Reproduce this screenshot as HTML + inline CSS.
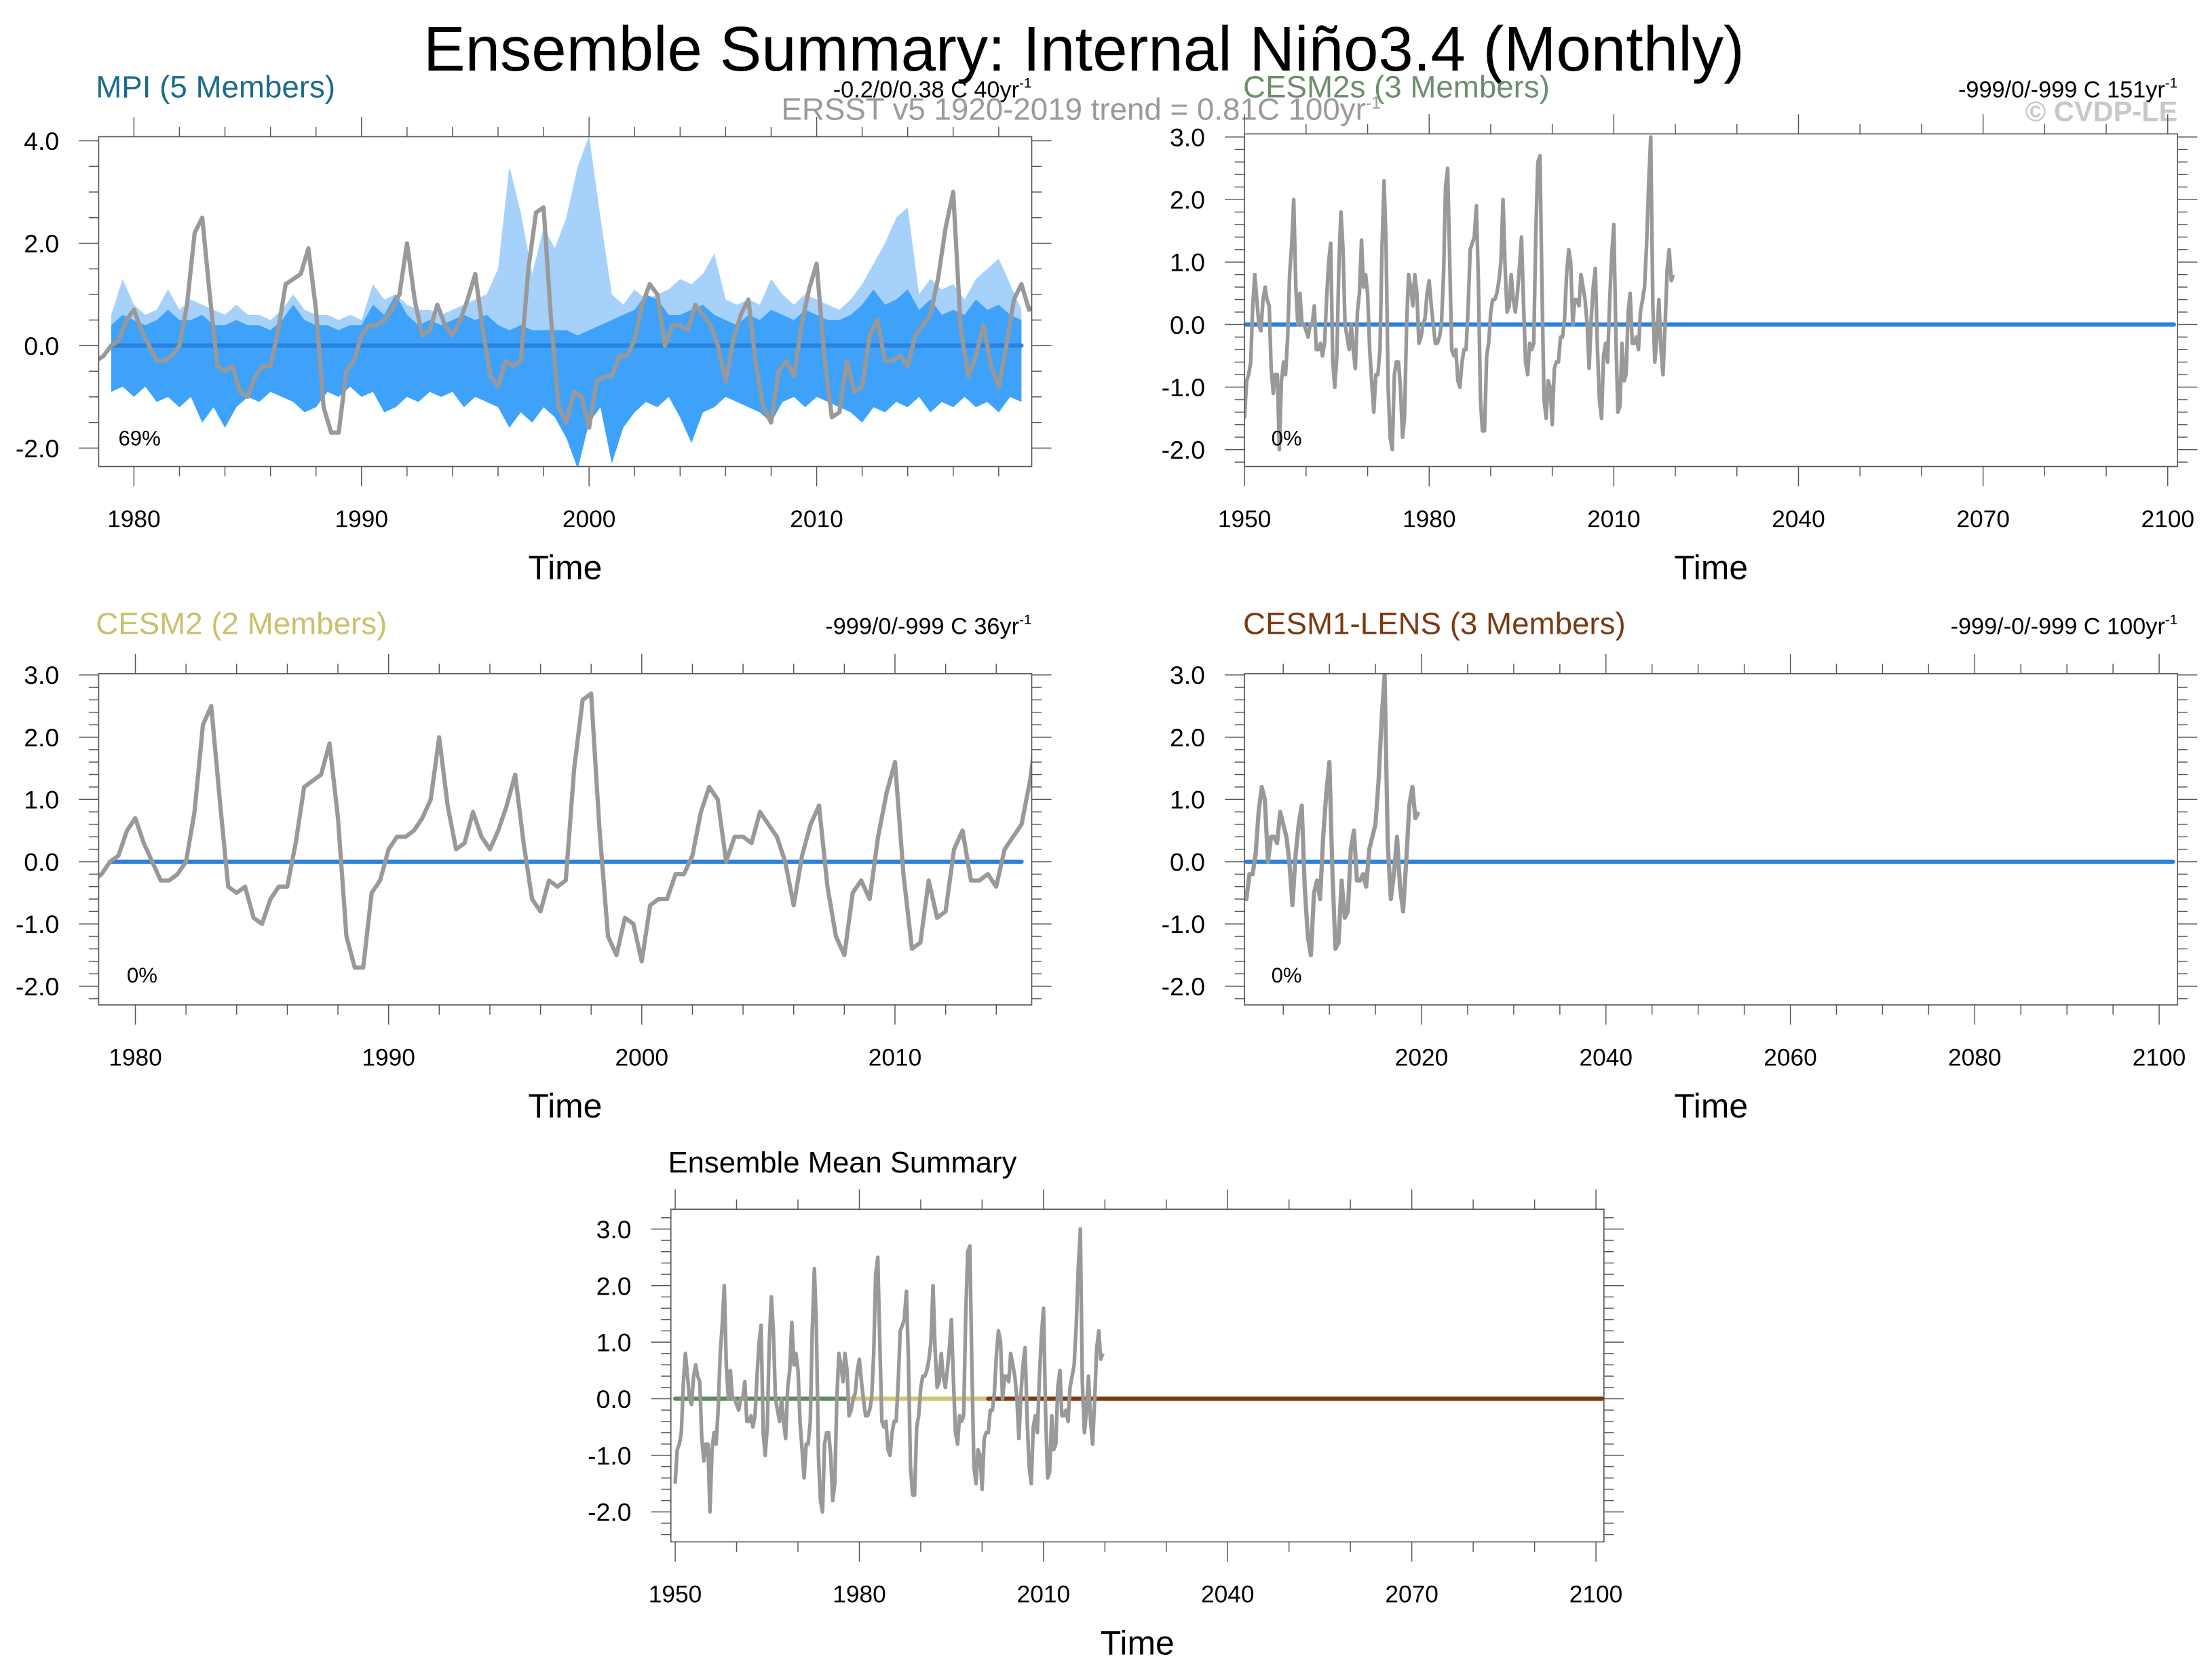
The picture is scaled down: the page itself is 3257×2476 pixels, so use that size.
<!DOCTYPE html>
<html><head><meta charset="utf-8"><style>
html,body{margin:0;padding:0;background:#fff}
svg{display:block}
text{font-family:"Liberation Sans",Arial,sans-serif}
</style></head><body>
<svg id="fig" xmlns="http://www.w3.org/2000/svg" width="3257" height="2476" viewBox="0 0 1568 1192" preserveAspectRatio="none">
<rect x="0" y="0" width="1568" height="1192" fill="#fff"/>
<text x="769" y="50" font-size="44.5" text-anchor="middle">Ensemble Summary: Internal Niño3.4 (Monthly)</text>
<text x="68" y="69" font-size="22" fill="#1b6b8c">MPI (5 Members)</text>
<text x="732" y="69" font-size="16.5" text-anchor="end">-0.2/0/0.38 C 40yr<tspan dy="-7" font-size="10">-1</tspan></text>
<text x="767" y="85" font-size="22" fill="#9a9a9a" text-anchor="middle">ERSST v5 1920-2019 trend = 0.81C 100yr<tspan dy="-8" font-size="12">-1</tspan></text>
<text x="882" y="69" font-size="22" fill="#6b8f6b">CESM2s (3 Members)</text>
<text x="1545" y="69" font-size="16.5" text-anchor="end">-999/0/-999 C 151yr<tspan dy="-7" font-size="10">-1</tspan></text>
<text x="1545" y="86" font-size="20" font-weight="bold" fill="#c8c8c8" text-anchor="end">© CVDP-LE</text>
<text x="68" y="450" font-size="22" fill="#cbc06c">CESM2 (2 Members)</text>
<text x="732" y="450" font-size="16.5" text-anchor="end">-999/0/-999 C 36yr<tspan dy="-7" font-size="10">-1</tspan></text>
<text x="882" y="450" font-size="22" fill="#7b3a12">CESM1-LENS (3 Members)</text>
<text x="1545" y="450" font-size="16.5" text-anchor="end">-999/-0/-999 C 100yr<tspan dy="-7" font-size="10">-1</tspan></text>
<text x="474" y="832" font-size="21">Ensemble Mean Summary</text>
</svg>
<script>
// Observed (ERSST) Nino3.4 anomaly, sampled every 4 months starting 1950.0
const obsStart = 1950;
const obsValues = [
-1.5,-0.9,-0.8, -0.6,0.3,0.8, 0.4,0.0,-0.1, 0.4,0.6,0.4, 0.3,-0.7,-1.1,
-0.8,-0.8,-2.0, -0.9,-0.6,-0.8, -0.2,0.8,1.3, 2.0,0.6,0.0, 0.5,0.0,0.0,
-0.1,-0.2,0.0, 0.0,0.3,-0.4, -0.4,-0.3,-0.5, -0.3,0.4,1.0, 1.3,-0.6,-1.0,
-0.5,1.0,1.8, 1.2,0.0,-0.2, -0.4,0.0,-0.4, -0.7,0.2,0.5, 1.35,0.6,0.8,
0.5,-0.4,-0.9, -1.4,-0.8,-0.8, -0.4,1.2,2.3, 1.3,-1.0,-1.8, -2.0,-0.8,-0.6,
-0.6,-1.0,-1.8, -1.5,0.0,0.8, 0.6,0.3,0.8, 0.5,-0.3,-0.2, 0.0,0.1,0.5,
0.7,0.3,0.0, -0.3,-0.3,-0.2, 0.0,0.8,2.2, 2.5,1.0,-0.4, -0.5,-0.4,-0.9,
-1.0,-0.6,-0.4, -0.4,0.3,1.2, 1.3,1.4,1.9, 0.7,-1.2,-1.7, -1.7,-0.5,-0.3,
0.2,0.4,0.4, 0.5,0.7,1.0, 2.0,0.9,0.2, 0.3,0.8,0.4, 0.2,0.5,0.9,
1.4,0.3,-0.6, -0.8,-0.3,-0.4, -0.3,1.5,2.6, 2.7,0.5,-1.2, -1.5,-0.9,-1.0,
-1.6,-0.7,-0.6, -0.6,-0.2,-0.2, 0.1,0.8,1.2, 1.0,0.0,0.4, 0.4,0.3,0.8,
0.6,0.4,0.0, -0.7,0.1,0.6, 0.9,-0.4,-1.2, -1.5,-0.5,-0.3, -0.6,0.4,1.1,
1.6,-0.2,-1.4, -1.3,-0.3,-0.9, -0.8,0.2,0.5, -0.3,-0.3,-0.2, -0.4,0.2,0.4,
0.6,1.3,2.3, 3.0,0.3,-0.6, -0.2,0.4,-0.4, -0.8,0.0,0.9, 1.2,0.7,0.8
];
// MPI ensemble spread, every 0.5 yr starting 1979.0
const mpiStart = 1979;
const mpiLightUpper = [0.6,1.3,0.8,0.6,0.7,1.1,0.7,0.9,0.8,0.7,0.6,0.8,0.6,0.6,0.5,0.7,1.0,0.7,0.6,0.6,0.5,0.6,0.5,1.2,0.9,1.0,0.8,0.7,0.7,0.6,0.7,0.8,0.9,1.0,1.5,3.5,2.6,1.4,2.3,1.9,2.5,3.5,4.1,2.5,1.0,0.8,1.1,0.9,1.0,1.1,1.3,1.2,1.4,1.8,0.9,0.8,0.9,0.8,1.3,1.0,0.8,1.0,0.9,0.8,0.7,0.9,1.2,1.6,2.0,2.5,2.7,1.0,1.3,1.1,1.2,0.9,1.3,1.5,1.7,1.2,0.7];
const mpiDarkUpper = [0.4,0.6,0.5,0.4,0.5,0.7,0.5,0.5,0.6,0.4,0.4,0.5,0.4,0.4,0.3,0.5,0.8,0.5,0.4,0.4,0.3,0.4,0.4,0.8,0.6,1.0,0.6,0.4,0.5,0.4,0.5,0.6,0.5,0.6,0.4,0.3,0.4,0.3,0.3,0.3,0.3,0.2,0.3,0.4,0.5,0.6,0.7,1.0,0.9,0.6,0.6,0.7,0.8,0.6,0.5,0.4,0.6,0.5,0.7,0.6,0.5,0.7,0.6,0.5,0.5,0.6,0.8,1.1,0.8,0.9,1.1,0.7,0.9,0.6,0.7,0.6,0.9,0.7,0.8,0.6,0.5];
const mpiLower = [-0.9,-0.8,-1.0,-0.8,-1.1,-1.0,-1.2,-1.0,-1.5,-1.2,-1.6,-1.2,-1.0,-1.1,-0.9,-1.0,-1.1,-1.3,-1.2,-0.9,-1.0,-0.8,-1.0,-0.9,-1.3,-1.2,-1.0,-1.1,-0.9,-1.0,-0.9,-1.2,-1.0,-1.1,-1.2,-1.6,-1.3,-1.5,-1.2,-1.4,-1.8,-2.4,-1.5,-1.2,-2.3,-1.6,-1.3,-1.1,-1.2,-1.0,-1.4,-1.9,-1.3,-1.2,-1.0,-1.1,-1.2,-1.3,-1.5,-1.1,-1.0,-1.2,-1.0,-1.1,-1.2,-1.3,-1.5,-1.2,-1.3,-1.1,-1.2,-1.0,-1.3,-1.1,-1.2,-1.0,-1.2,-1.1,-1.3,-1.0,-1.1];

const NS="http://www.w3.org/2000/svg";
const svg=document.getElementById('fig');
function mk(tag,attrs,parent){const e=document.createElementNS(NS,tag);for(const k in attrs)e.setAttribute(k,attrs[k]);(parent||svg).appendChild(e);return e;}

function panel(p){
  const g=mk('g',{});
  
  
  const sx=v=>p.x0+(v-p.xmin)/(p.xmax-p.xmin)*(p.x1-p.x0);
  const sy=v=>p.y1-(v-p.ymin)/(p.ymax-p.ymin)*(p.y1-p.y0);
  const cid='clip-'+p.name;
  const cp=mk('clipPath',{id:cid},g);mk('rect',{x:p.x0,y:p.y0,width:p.x1-p.x0,height:p.y1-p.y0},cp);
  const plot=mk('g',{'clip-path':'url(#'+cid+')'},g);
  if(p.bands){
    const up=mpiLightUpper.map((v,i)=>[sx(mpiStart+i*0.5),sy(v)]);
    const du=mpiDarkUpper.map((v,i)=>[sx(mpiStart+i*0.5),sy(v)]);
    const lo=mpiLower.map((v,i)=>[sx(mpiStart+i*0.5),sy(v)]);
    const poly=(a,b)=>a.concat(b.slice().reverse()).map(q=>q[0].toFixed(1)+','+q[1].toFixed(1)).join(' ');
    const l=mk('polygon',{points:poly(up,lo),fill:'#a6d1fb'},plot);
    
    
    const d=mk('polygon',{points:poly(du,lo),fill:'#3ea2fb'},plot);
    
    
  }
  p.zero.forEach(z=>{
    const zl=mk('line',{x1:sx(z[0]),x2:sx(z[1]),y1:sy(0),y2:sy(0),stroke:z[2],'stroke-width':3,'stroke-linecap':'round'},plot);
    
    
  });
  const pts=obsValues.map((v,i)=>sx(obsStart+i/3).toFixed(1)+','+sy(v).toFixed(1)).join(' ');
  const ol=mk('polyline',{points:pts,fill:'none',stroke:'#999','stroke-width':p.lw||3,'stroke-linejoin':'round'},plot);
  
  
  const fr=mk('rect',{x:p.x0,y:p.y0,width:p.x1-p.x0,height:p.y1-p.y0,fill:'none',stroke:'#555','stroke-width':0.8},g);
  
  
  const tk={stroke:'#555','stroke-width':0.7};
  const perMaj=Math.round(p.ymajor/p.yminor);
  const k0=Math.ceil(p.ymin/p.yminor-1e-6),k1=Math.floor(p.ymax/p.yminor+1e-6);
  for(let k=k0;k<=k1;k++){
    const vv=k*p.yminor;
    const isMaj=(k%perMaj)===0;
    const L=isMaj?14:7,y=sy(vv);
    mk('line',Object.assign({x1:p.x0-L,x2:p.x0,y1:y,y2:y},tk),g);
    mk('line',Object.assign({x1:p.x1,x2:p.x1+L,y1:y,y2:y},tk),g);
    if(isMaj){const t=mk('text',{x:p.x0-28,y:y+6.5,'font-size':18,'text-anchor':'end'},g);t.textContent=(Math.abs(vv)<1e-9?0:vv).toFixed(1);
      
      }
  }
  for(let v=Math.ceil(p.xmin/p.xminor)*p.xminor;v<=p.xmax;v+=p.xminor){
    const isMaj=v%p.xmajor===0,L=isMaj?14:7,x=sx(v);
    mk('line',Object.assign({x1:x,x2:x,y1:p.y1,y2:p.y1+L},tk),g);
    mk('line',Object.assign({x1:x,x2:x,y1:p.y0-L,y2:p.y0},tk),g);
    if(isMaj){const t=mk('text',{x:x,y:p.y1+43,'font-size':17,'text-anchor':'middle'},g);t.textContent=v;
      
      }
  }
  const xt=mk('text',{x:(p.x0+p.x1)/2,y:p.y1+80,'font-size':24,'text-anchor':'middle'},g);xt.textContent='Time';
  
  
  if(p.pct){const t=mk('text',{x:p.pct[0],y:p.pct[1],'font-size':15},g);t.textContent=p.pct[2];
    
    }
}
const blue='#2a82dc';
panel({name:'mpi',x0:70,x1:732,y0:97,y1:331,xmin:1978.45,xmax:2019.45,ymin:-2.36,ymax:4.08,ymajor:2,yminor:0.5,xmajor:10,xminor:2,bands:true,zero:[[1979,2019,blue]],pct:[84,316,'69%']});
panel({name:'cesm2s',x0:883,x1:1545,y0:95,y1:331,xmin:1950,xmax:2101.6,ymin:-2.27,ymax:3.05,ymajor:1,yminor:0.2,xmajor:30,xminor:10,zero:[[1950,2101,blue]],pct:[902,316,'0%'],lw:2.6});
panel({name:'cesm2',x0:70,x1:732,y0:478,y1:713,xmin:1978.55,xmax:2015.4,ymin:-2.3,ymax:3.02,ymajor:1,yminor:0.2,xmajor:10,xminor:2,zero:[[1979,2015,blue]],pct:[90,697,'0%']});
panel({name:'cesm1-lens',x0:883,x1:1545,y0:478,y1:713,xmin:2000.8,xmax:2102,ymin:-2.3,ymax:3.02,ymajor:1,yminor:0.2,xmajor:20,xminor:5,zero:[[2001,2101.5,blue]],pct:[902,697,'0%']});
panel({name:'ensemble-mean',x0:476,x1:1138,y0:858,y1:1094,xmin:1949.3,xmax:2101.3,ymin:-2.53,ymax:3.35,ymajor:1,yminor:0.2,xmajor:30,xminor:10,zero:[[1950,1978.5,'#5f8a5f'],[1978.5,2001,'#cfc577'],[2001,2101,'#7b3a12']],lw:2.6});
</script>
</body></html>
